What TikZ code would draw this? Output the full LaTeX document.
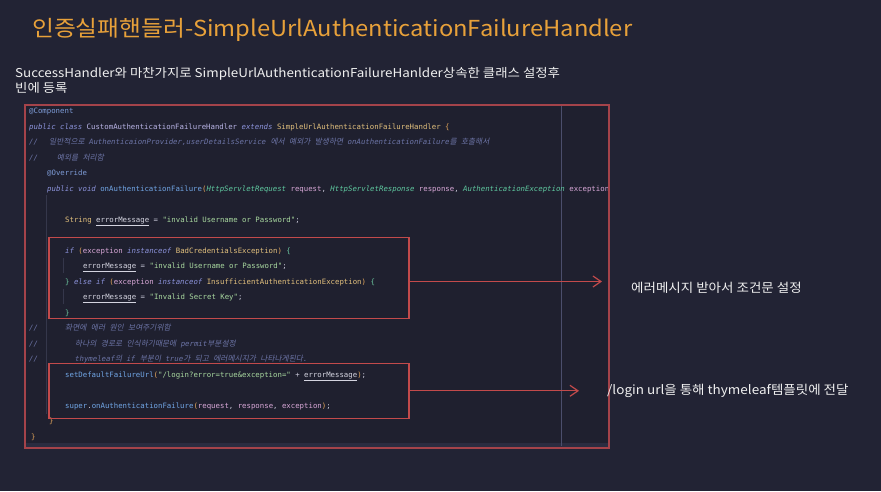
\documentclass[tikz,border=0pt]{standalone}
\usepackage{fontspec}
\usepackage{tikz}
\usetikzlibrary{arrows.meta}
\setmainfont{Noto Sans CJK KR}[FakeStretch=1.08]
\setmonofont{DejaVu Sans Mono}
\newfontfamily\krslant{Noto Sans CJK KR}[FakeSlant=0.2,Scale=1.05]
\newfontfamily\subfont{Noto Sans CJK KR}[FakeStretch=1.1]
\definecolor{bgc}{HTML}{222334}
\definecolor{panelc}{HTML}{1F202F}
\definecolor{bandc}{HTML}{2A2C40}
\definecolor{titlec}{HTML}{E8A13A}
\definecolor{cred}{HTML}{C24A4B}
\definecolor{cpanel}{HTML}{A4434A}
\definecolor{cvline}{HTML}{4B4E6C}
\definecolor{cguide}{HTML}{35374B}
\definecolor{ckw}{HTML}{8C93DB}
\definecolor{ccls}{HTML}{B9B4E6}
\definecolor{cty}{HTML}{E2C07D}
\definecolor{can}{HTML}{7E9CD8}
\definecolor{cfn}{HTML}{71A6E6}
\definecolor{cgty}{HTML}{5FC9A0}
\definecolor{cpa}{HTML}{D9A8D8}
\definecolor{cstr}{HTML}{A9D9A0}
\definecolor{cvar}{HTML}{D4D4E0}
\definecolor{ccmt}{HTML}{6C74A6}
\definecolor{cbrc}{HTML}{E0A35A}
\definecolor{cgbrc}{HTML}{6CC7A0}
\definecolor{ctext}{HTML}{C8C8D8}
\newcommand\Kw[1]{\textcolor{ckw}{\itshape #1}}
\newcommand\Cls[1]{\textcolor{ccls}{#1}}
\newcommand\Ty[1]{\textcolor{cty}{#1}}
\newcommand\An[1]{\textcolor{can}{#1}}
\newcommand\Fn[1]{\textcolor{cfn}{#1}}
\newcommand\Gty[1]{\textcolor{cgty}{\itshape #1}}
\newcommand\Pa[1]{\textcolor{cpa}{#1}}
\newcommand\Str[1]{\textcolor{cstr}{#1}}
\newcommand\Var[1]{\textcolor{cvar}{\underline{#1}}}
\newcommand\Cmt[1]{\textcolor{ccmt}{\itshape #1}}
\newcommand\Brc[1]{\textcolor{cbrc}{#1}}
\newcommand\Gbrc[1]{\textcolor{cgbrc}{#1}}
\newcommand\hg[1]{{\krslant #1}}
\tikzstyle{heading}=[anchor=base west, inner sep=0pt, text=titlec, font=\fontsize{22}{26}\selectfont]
\tikzstyle{sub}=[anchor=base west, inner sep=0pt, text=white!94!black, font=\subfont\fontsize{12.2}{15}\selectfont]
\tikzstyle{lbl}=[anchor=base west, inner sep=0pt, text=white!94!black, font=\fontsize{12.5}{15}\selectfont]
\tikzstyle{src}=[anchor=base west, inner sep=0pt, text=ctext, font=\fontsize{7.35}{9}\selectfont\ttfamily]
\tikzstyle{hl}=[rectangle, draw=cred, line width=1.4pt, inner sep=0pt, minimum width=360pt]
\tikzstyle{arr}=[draw=cred, line width=1.2pt, -{Straight Barb[length=8pt,width=11pt]}]
\begin{document}
\begin{tikzpicture}[x=1pt,y=-1pt]
	%The slide
	\useasboundingbox (0,0) rectangle (881,491);
	\fill[bgc] (0,0) rectangle (881,491);
	\draw (32,36) node[heading] (title) {인증실패핸들러-SimpleUrlAuthenticationFailureHandler};
	\draw (15,77) node[sub] (s1) {SuccessHandler와 마찬가지로 SimpleUrlAuthenticationFailureHanlder상속한 클래스 설정후};
	\draw (15,92) node[sub] (s2) {빈에 등록};
	
	%The code panel
	\fill[panelc] (25,105) rectangle (609,448);
	\fill[bandc] (25,443) rectangle (609,448);
	\draw[cvline, line width=1pt] (561,105) -- (561,446);
	\draw[cguide, line width=0.8pt] (46,195) -- (46,414);
	\draw[cguide, line width=0.8pt] (63.5,258) -- (63.5,273);
	\draw[cguide, line width=0.8pt] (63.5,289) -- (63.5,304);
	
	\begin{scope}
		\clip (25,105) rectangle (607,448);
		\draw (29,113.5) node[src] (l0) {\An{@Component}};
		\draw (29,129) node[src] (l1) {\Kw{public} \Kw{class} \Cls{CustomAuthenticationFailureHandler} \Kw{extends} \Ty{SimpleUrlAuthenticationFailureHandler} \Brc{\{}};
		\draw (29,144.5) node[src] (l2) {\Cmt{\makebox[20pt][l]{//}\hg{일반적으로} AuthenticaionProvider,userDetailsService \hg{에서} \hg{예외가} \hg{발생하면} onAuthenticationFailure\hg{를} \hg{호출해서}}};
		\draw (29,160) node[src] (l3) {\Cmt{\makebox[27.7pt][l]{//}\hg{예외를} \hg{처리함}}};
		\draw (47,175.5) node[src] (l4) {\An{@Override}};
		\draw (47,191) node[src] (l5) {\Kw{public} \Kw{void} \Fn{onAuthenticationFailure}\Brc{(}\Gty{HttpServletRequest} \Pa{request}, \Gty{HttpServletResponse} \Pa{response}, \Gty{AuthenticationException} \Pa{exception}\Brc{)} \Brc{\{}};
		\draw (65,222) node[src] (l7) {\Ty{String} \Var{errorMessage} = \Str{"invalid Username or Password"};};
		\draw (65,253) node[src] (l9) {\Kw{if} \Brc{(}\Pa{exception} \Kw{instanceof} \Ty{BadCredentialsException}\Brc{)} \Gbrc{\{}};
		\draw (83,268.5) node[src] (l10) {\Var{errorMessage} = \Str{"invalid Username or Password"};};
		\draw (65,284) node[src] (l11) {\Gbrc{\}} \Kw{else} \Kw{if} \Brc{(}\Pa{exception} \Kw{instanceof} \Ty{InsufficientAuthenticationException}\Brc{)} \Gbrc{\{}};
		\draw (83,299.5) node[src] (l12) {\Var{errorMessage} = \Str{"Invalid Secret Key"};};
		\draw (65,315) node[src] (l13) {\Gbrc{\}}};
		\draw (29,330.5) node[src] (l14) {\Cmt{\makebox[36pt][l]{//}\hg{화면에} \hg{에러} \hg{원인} \hg{보여주기위함}}};
		\draw (29,346) node[src] (l15) {\Cmt{\makebox[46pt][l]{//}\hg{하나의} \hg{경로로} \hg{인식하기때문에} permit\hg{부분설정}}};
		\draw (29,361.5) node[src] (l16) {\Cmt{\makebox[46pt][l]{//}thymeleaf\hg{의} if \hg{부분이} true\hg{가} \hg{되고} \hg{에러메시지가} \hg{나타나게된다}.}};
		\draw (65,377) node[src] (l17) {\Fn{setDefaultFailureUrl}\Brc{(}\Str{"/login?error=true\&exception="} + \Var{errorMessage}\Brc{)};};
		\draw (65,408) node[src] (l19) {\Fn{super}.\Fn{onAuthenticationFailure}\Brc{(}\Pa{request}, \Pa{response}, \Pa{exception}\Brc{)};};
		\draw (49,423.5) node[src] (l20) {\Brc{\}}};
		\draw (31,439) node[src] (l21) {\Brc{\}}};
	\end{scope}
	\draw[cpanel, line width=1.2pt] (25,105) rectangle (609,448);
	
	%The highlighted blocks
	\draw (229,277.8) node[hl, minimum height=81pt] (box1) {};
	\draw (229,390.8) node[hl, minimum height=55pt] (box2) {};
	
	%The notes
	\coordinate (tip1) at (602,281.5);
	\coordinate (tip2) at (579,390.8);
	\draw (631,292.5) node[lbl] (m1) {에러메시지 받아서 조건문 설정};
	\draw (607,394) node[lbl] (m2) {/login url을 통해 thymeleaf템플릿에 전달};
	
	\draw[arr] (box1.east |- tip1) -- (tip1);
	\draw[arr] (box2.east) -- (tip2);
\end{tikzpicture}
\end{document}
